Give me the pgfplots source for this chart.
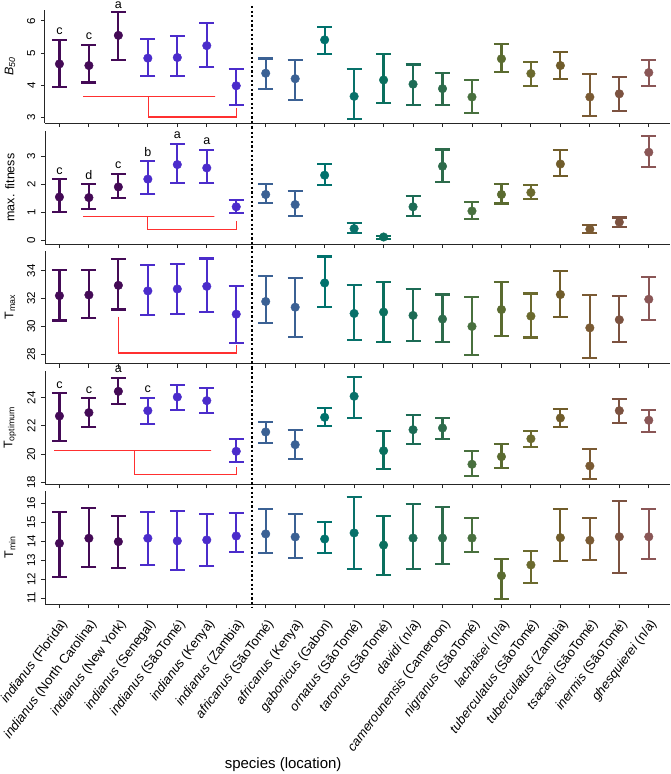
\documentclass[border=0pt]{standalone}
\usepackage{fontspec}
\setmainfont{Liberation Sans}
\usepackage{pgfplots}
\pgfplotsset{compat=1.18}
\usepackage{pgfplotstable}

\definecolor{c0}{HTML}{440A56}
\definecolor{c1}{HTML}{440A56}
\definecolor{c2}{HTML}{440A56}
\definecolor{c3}{HTML}{4B2CCB}
\definecolor{c4}{HTML}{4B2CCB}
\definecolor{c5}{HTML}{4B2CCB}
\definecolor{c6}{HTML}{4B2CCB}
\definecolor{c7}{HTML}{3B6194}
\definecolor{c8}{HTML}{3B6194}
\definecolor{c9}{HTML}{00716C}
\definecolor{c10}{HTML}{08716A}
\definecolor{c11}{HTML}{0A6F5E}
\definecolor{c12}{HTML}{1C6B55}
\definecolor{c13}{HTML}{2D6B4B}
\definecolor{c14}{HTML}{48703E}
\definecolor{c15}{HTML}{5A6B30}
\definecolor{c16}{HTML}{6B6A2E}
\definecolor{c17}{HTML}{705C2A}
\definecolor{c18}{HTML}{7A5A33}
\definecolor{c19}{HTML}{7C5240}
\definecolor{c20}{HTML}{8A5656}
\definecolor{brkred}{HTML}{FF3030}

% x: category index; b = B50, f = max fitness, tx = Tmax, to = Toptimum, tn = Tmin
\pgfplotstableread{
x  b    blo  bhi   f    flo  fhi   tx    txlo  txhi   to    tolo  tohi   tn    tnlo  tnhi
0  4.66 3.93 5.41  1.54 1.00 2.18  32.21 30.43 34.07  22.70 20.91 24.31  13.89 12.13 15.57
1  4.61 4.08 5.26  1.52 1.12 2.00  32.26 30.60 34.07  22.94 21.90 23.96  14.16 12.62 15.75
2  5.55 4.79 6.27  1.90 1.51 2.37  32.95 31.21 34.84  24.45 23.53 25.42  13.98 12.60 15.35
3  4.84 4.28 5.43  2.18 1.64 2.82  32.55 30.81 34.43  23.08 22.13 24.00  14.16 12.75 15.57
4  4.86 4.28 5.53  2.70 2.05 3.44  32.69 30.90 34.50  24.05 23.10 24.90  14.02 12.48 15.59
5  5.23 4.56 5.93  2.58 2.05 3.23  32.88 31.05 34.88  23.79 22.94 24.67  14.07 12.68 15.46
6  3.98 3.37 4.50  1.19 0.96 1.44  30.88 28.84 32.90  20.20 19.46 21.05  14.28 13.43 15.48
7  4.37 3.89 4.83  1.63 1.34 2.00  31.79 30.24 33.60  21.57 20.79 22.28  14.39 13.40 15.69
8  4.20 3.53 4.79  1.27 0.87 1.75  31.38 29.26 33.45  20.67 19.63 21.73  14.23 13.13 15.43
9  5.41 4.97 5.80  2.32 1.96 2.72  33.12 31.40 35.02  22.61 22.01 23.29  14.12 13.40 15.04
10 3.65 2.95 4.50  0.41 0.26 0.62  30.93 29.05 32.95  24.10 22.54 25.49  14.44 12.52 16.34
11 4.16 3.45 4.96  0.11 0.04 0.16  31.03 28.88 33.19  20.24 18.94 21.64  13.80 12.23 15.34
12 4.03 3.37 4.64  1.19 0.86 1.57  30.79 28.95 32.67  21.73 20.72 22.79  14.17 12.53 15.96
13 3.89 3.37 4.39  2.64 2.07 3.24  30.53 28.88 32.29  21.85 21.05 22.58  14.17 12.78 15.81
14 3.63 3.12 4.16  1.04 0.76 1.37  30.00 27.96 32.12  19.28 18.47 20.24  14.17 13.42 15.25
15 4.82 4.40 5.29  1.63 1.31 2.00  31.21 29.31 33.21  19.82 19.01 20.72  12.18 10.95 13.06
16 4.36 3.97 4.71  1.70 1.47 1.96  30.74 29.21 32.36  21.09 20.52 21.64  12.75 11.79 13.47
17 4.61 4.19 5.02  2.72 2.30 3.21  32.29 30.67 34.00  22.56 21.94 23.18  14.19 12.97 15.71
18 3.63 3.03 4.35  0.39 0.24 0.55  29.90 27.74 32.24  19.16 18.26 20.36  14.05 13.01 15.23
19 3.73 3.19 4.25  0.64 0.46 0.81  30.48 28.91 32.19  23.08 22.23 23.91  14.24 12.34 16.13
20 4.39 3.98 4.79  3.14 2.61 3.73  31.95 30.46 33.57  22.40 21.57 23.15  14.24 13.08 15.72
}\data

\newcommand{\fs}[1]{\fontsize{#1}{#1}\selectfont}

\tikzset{lett/.style={anchor=base, font=\fs{12.5}, yshift=5pt}}

\pgfplotsset{
  panel/.style={
    scale only axis, width=625pt, height=113pt,
    xmin=-0.49, xmax=20.72, xtick={0,...,20},
    axis lines*=left, clip=false,
    axis line style={black!85, line width=1pt},
    tick align=outside, major tick length=4pt,
    tick style={black!85, line width=0.9pt},
    /pgf/number format/assume math mode=true,
    y tick label style={rotate=90, anchor=south, font=\fs{11.5}, inner sep=1.5pt},
    yticklabel shift=4pt,
    ylabel style={at={(axis description cs:-0.056,0.5)}, anchor=center, font=\fs{12.5}},
  },
  bracket/.style={color=brkred, line width=1.3pt, no marks},
}

\newcommand{\series}[3]{%
  \pgfplotsinvokeforeach{0,...,20}{%
    \addplot[c##1, only marks, mark=*, mark size=4.3pt,
      error bars/.cd, y dir=both, y explicit,
      error bar style={line width=2.2pt, c##1},
      error mark options={rotate=90, line width=2.2pt, mark size=7.5pt, c##1}]
      table[x=x, y=#1,
        y error plus expr=\thisrow{#3}-\thisrow{#1},
        y error minus expr=\thisrow{#1}-\thisrow{#2},
        restrict expr to domain={\coordindex}{##1:##1}]{\data};
  }%
}

\newcommand{\sepline}{%
  \draw[black, line width=1.4pt, dash pattern=on 2.3pt off 2.3pt]
    ({axis cs:6.53,0}|-{rel axis cs:0,1.036}) -- ({axis cs:6.53,0}|-{rel axis cs:0,-0.036});
}

\begin{document}
\begin{tikzpicture}
\useasboundingbox (0,0) rectangle (670pt,-774pt);

% ---- B50
\begin{axis}[panel, at={(45pt,-10pt)}, anchor=north west,
  ymin=2.82, ymax=6.34, ytick={3,4,5,6}, xticklabels={},
  ylabel={\textit{B\textsubscript{50}}}]
  \sepline
  \series{b}{blo}{bhi}
  \addplot[bracket] coordinates {(0.81,3.64) (5.28,3.64) (3.02,3.64) (3.02,3.01) (6,3.01) (6,3.30)};
  \node[lett] at (axis cs:0,5.41) {c};
  \node[lett] at (axis cs:1,5.26) {c};
  \node[lett, yshift=-1.5pt] at (axis cs:2,6.27) {a};
\end{axis}

% ---- max fitness
\begin{axis}[panel, at={(45pt,-131pt)}, anchor=north west,
  ymin=-0.14, ymax=3.90, ytick={0,1,2,3}, xticklabels={},
  ylabel={max. fitness}]
  \sepline
  \series{f}{flo}{fhi}
  \addplot[bracket] coordinates {(0.81,0.84) (5.26,0.84) (3.0,0.84) (3.0,0.39) (6,0.39) (6,0.68)};
  \node[lett] at (axis cs:0,2.18) {c};
  \node[lett] at (axis cs:1,2.00) {d};
  \node[lett] at (axis cs:2,2.37) {c};
  \node[lett] at (axis cs:3,2.82) {b};
  \node[lett] at (axis cs:4,3.44) {a};
  \node[lett] at (axis cs:5,3.23) {a};
\end{axis}

% ---- Tmax
\begin{axis}[panel, at={(45pt,-250.5pt)}, anchor=north west,
  ymin=27.34, ymax=35.45, ytick={28,30,32,34}, xticklabels={},
  ylabel={T\textsubscript{max}}]
  \sepline
  \series{tx}{txlo}{txhi}
  \addplot[bracket] coordinates {(2,30.71) (2,28.1) (6,28.1) (6,28.69)};
\end{axis}

% ---- Toptimum
\begin{axis}[panel, at={(45pt,-371.3pt)}, anchor=north west,
  ymin=17.86, ymax=25.87, ytick={18,20,22,24}, xticklabels={},
  ylabel={T\textsubscript{optimum}}]
  \sepline
  \series{to}{tolo}{tohi}
  \addplot[bracket] coordinates {(-0.17,20.27) (5.15,20.27) (2.55,20.27) (2.55,18.57) (6,18.57) (6,19.1)};
  \node[lett] at (axis cs:0,24.31) {c};
  \node[lett] at (axis cs:1,23.96) {c};
  \node[lett] at (axis cs:2,25.42) {a};
  \node[lett] at (axis cs:3,24.00) {c};
\end{axis}

% ---- Tmin
\begin{axis}[panel, at={(45pt,-491pt)}, anchor=north west,
  ymin=10.68, ymax=16.66, ytick={11,12,13,14,15,16},
  ylabel={T\textsubscript{min}},
  xticklabels={
    {\textit{indianus} (Florida)},
    {\textit{indianus} (North Carolina)},
    {\textit{indianus} (New York)},
    {\textit{indianus} (Senegal)},
    {\textit{indianus} (SãoTomé)},
    {\textit{indianus} (Kenya)},
    {\textit{indianus} (Zambia)},
    {\textit{africanus} (SãoTomé)},
    {\textit{africanus} (Kenya)},
    {\textit{gabonicus} (Gabon)},
    {\textit{ornatus} (SãoTomé)},
    {\textit{taronus} (SãoTomé)},
    {\textit{davidi} (n/a)},
    {\textit{camerounensis} (Cameroon)},
    {\textit{nigranus} (SãoTomé)},
    {\textit{lachaisei} (n/a)},
    {\textit{tuberculatus} (SãoTomé)},
    {\textit{tuberculatus} (Zambia)},
    {\textit{tsacasi} (SãoTomé)},
    {\textit{inermis} (SãoTomé)},
    {\textit{ghesquierei} (n/a)}},
  x tick label style={rotate=53, anchor=north east, font=\fs{13}, inner sep=2pt},
  xticklabel shift=7pt,
  xlabel={species (location)},
  xlabel style={at={(axis description cs:0.381,-1.42)}, anchor=center, font=\fs{15}}]
  \sepline
  \series{tn}{tnlo}{tnhi}
\end{axis}
\end{tikzpicture}
\end{document}
